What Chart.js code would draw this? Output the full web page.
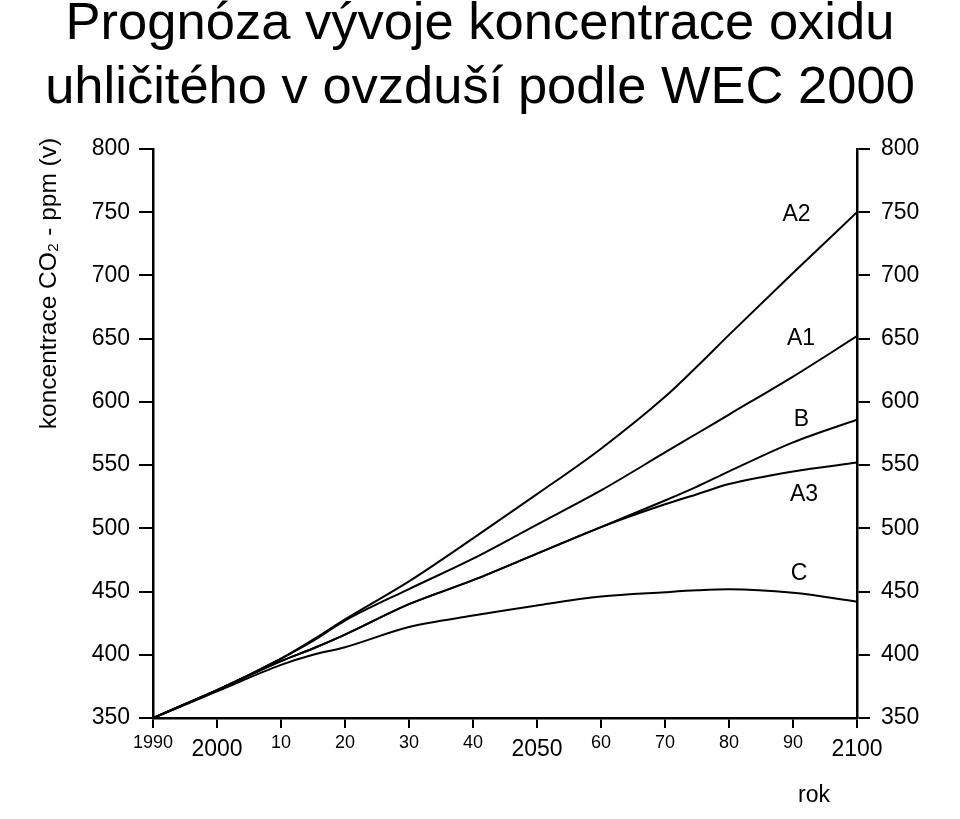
<!DOCTYPE html>
<html><head><meta charset="utf-8">
<script src="https://cdn.jsdelivr.net/npm/chart.js@4"></script>
<style>html,body{margin:0;padding:0;background:#fff}canvas{display:block}</style>
</head><body>
<canvas id="c" width="960" height="819" style="width:960px;height:819px"></canvas>
<script>
// ---- data ----
const years = [1990, 2000, 2010, 2015, 2020, 2030, 2040, 2050, 2060, 2070, 2075, 2080, 2090, 2100];
const seriesA2 = [350, 372, 397, 412, 428, 458, 492, 527, 563, 604, 628, 653, 702, 750];
const seriesA1 = [350, 372, 397, 411, 427, 452, 476, 503, 530, 560, 575, 590, 620, 652];
const seriesB  = [350, 372, 395, 405, 416, 440, 459, 480, 501, 522, 533, 545, 568, 586];
const seriesA3 = [350, 372, 395, 405, 416, 440, 459, 480, 501, 519, 527, 535, 545, 552];
const seriesC  = [350, 371, 392, 400, 406, 422, 431, 439, 446, 449.5, 451, 451.8, 449, 442];
const seriesNames = ['A2', 'A1', 'B', 'A3', 'C'];
const xTickYears  = [1990, 2000, 2010, 2020, 2030, 2040, 2050, 2060, 2070, 2080, 2090, 2100];
const xTickLabels = ['1990', '2000', '10', '20', '30', '40', '2050', '60', '70', '80', '90', '2100'];
const xBigLabels  = ['2000', '2050', '2100'];
const yTicks = [350, 400, 450, 500, 550, 600, 650, 700, 750, 800];
const titleLines = ['Prognóza vývoje koncentrace oxidu', 'uhličitého v ovzduší podle WEC 2000'];
const yTitle = 'koncentrace CO₂ - ppm (v)';
const xTitle = 'rok';

// ---- config ----
const FAMILY = "'Liberation Sans', Arial, Helvetica, sans-serif";
Chart.defaults.font.family = FAMILY;
Chart.defaults.color = '#000';

const allSeries = [seriesA2, seriesA1, seriesB, seriesA3, seriesC];
const labelAnchors = { A2: [2090.55, 748.2], A1: [2091.25, 650.1], B: [2091.33, 585.7], A3: [2091.72, 526.4], C: [2090.94, 464.5] };

const annotate = {
  id: 'annotate',
  afterDraw(chart) {
    const ctx = chart.ctx, xs = chart.scales.x, ys = chart.scales.y;
    ctx.save();
    ctx.fillStyle = '#000';
    ctx.font = '23px ' + FAMILY;
    ctx.textAlign = 'center';
    ctx.textBaseline = 'middle';
    seriesNames.forEach(n => {
      const a = labelAnchors[n];
      ctx.fillText(n, xs.getPixelForValue(a[0]), ys.getPixelForValue(a[1]));
    });
    ctx.textBaseline = 'alphabetic';
    ctx.fillText(xTitle, 814, 802);
    ctx.translate(56, 283.5);
    ctx.rotate(-Math.PI / 2);
    ctx.font = '24.5px ' + FAMILY;
    ctx.fillText(yTitle, 0, 0);
    ctx.restore();
  }
};

const yAxisCommon = {
  type: 'linear', min: 350, max: 800,
  afterBuildTicks: s => { s.ticks = yTicks.map(v => ({ value: v })); },
  ticks: { font: { size: 23 }, color: '#000' },
  grid: { drawOnChartArea: false, drawTicks: true, color: '#000', lineWidth: 2 },
  border: { display: true, color: '#000', width: 2.5 }
};

new Chart(document.getElementById('c'), {
  type: 'line',
  data: {
    datasets: allSeries.map((s, i) => ({
      label: seriesNames[i],
      data: years.map((x, j) => ({ x: x, y: s[j] })),
      borderColor: '#000', borderWidth: 2, pointRadius: 0, fill: false,
      cubicInterpolationMode: 'monotone'
    }))
  },
  options: {
    responsive: false, animation: false, devicePixelRatio: 1,
    layout: { padding: 0 },
    plugins: {
      legend: { display: false }, tooltip: { enabled: false },
      title: {
        display: true, text: titleLines, color: '#000',
        font: { size: 52.5, weight: 'normal', lineHeight: 64 / 52.5 },
        padding: { top: -7, bottom: 28 }
      }
    },
    scales: {
      x: {
        type: 'linear', position: 'bottom', min: 1990, max: 2100,
        afterBuildTicks: s => { s.ticks = xTickYears.map(v => ({ value: v })); },
        afterFit: s => { s.height = 101; },
        ticks: {
          autoSkip: false, maxRotation: 0, padding: 4, color: '#000',
          callback: v => xTickLabels[xTickYears.indexOf(v)],
          font: ctx => {
            const lbl = xTickLabels[xTickYears.indexOf(ctx.tick ? ctx.tick.value : 0)];
            return xBigLabels.includes(lbl) ? { size: 23, lineHeight: 36 / 23 } : { size: 18, lineHeight: 23 / 18 };
          }
        },
        grid: { drawOnChartArea: false, drawTicks: true, tickLength: 10, color: '#000', lineWidth: 2 },
        border: { display: true, color: '#000', width: 2.5 }
      },
      y: Object.assign({}, yAxisCommon, {
        position: 'left',
        afterFit: s => { s.width = 153; },
        ticks: { font: { size: 23 }, color: '#000', padding: 9 },
        grid: Object.assign({}, yAxisCommon.grid, { tickLength: 14 })
      }),
      y2: Object.assign({}, yAxisCommon, {
        position: 'right',
        afterFit: s => { s.width = 103; },
        ticks: { font: { size: 23 }, color: '#000', padding: 11 },
        grid: Object.assign({}, yAxisCommon.grid, { tickLength: 13 })
      })
    }
  },
  plugins: [annotate]
});
</script>
</body></html>
